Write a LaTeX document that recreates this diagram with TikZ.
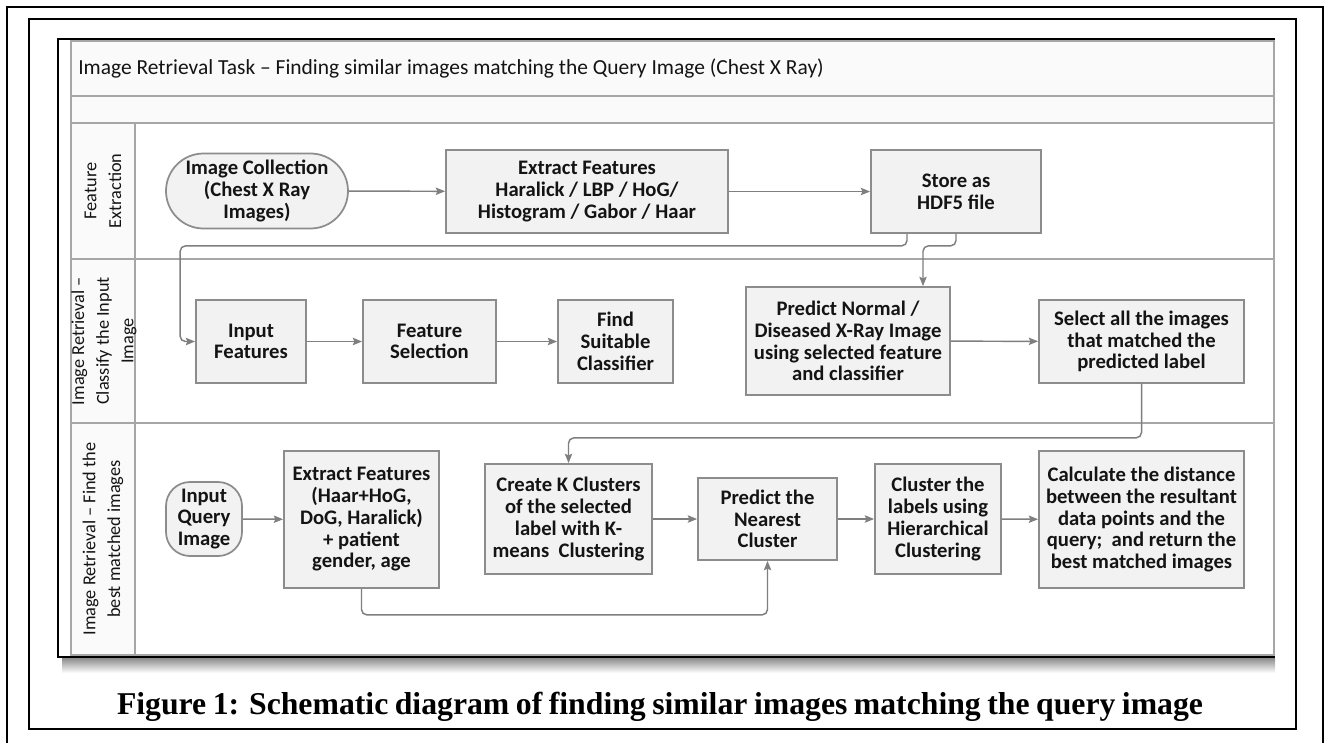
\documentclass[tikz,border=0pt]{standalone}
\usepackage{fontspec}
\setmainfont{Carlito}
\newfontfamily\capfont{Liberation Serif}
\usetikzlibrary{arrows.meta,calc}
\definecolor{boxfill}{HTML}{F2F2F2}
\definecolor{boxline}{HTML}{8C8C8C}
\definecolor{lanefill}{HTML}{FAFAFA}
\definecolor{laneline}{HTML}{A6A6A6}
\definecolor{arr}{HTML}{7F7F7F}
\definecolor{txt}{HTML}{141414}
\begin{document}
\begin{tikzpicture}[x=0.75pt,y=-0.75pt,
  sz/.style 2 args={minimum width=#1*0.75pt, minimum height=#2*0.75pt},
  proc/.style={draw=boxline, fill=boxfill, line width=1.3pt, inner sep=0pt, align=center,
    font=\bfseries\fontsize{15.5}{16.3}\selectfont, text=txt},
  term/.style={proc, rounded corners=#1},
  conn/.style={draw=arr, line width=1.1pt, rounded corners=4pt,
    -{Stealth[length=7pt,width=5.5pt,inset=1.2pt]}},
  lanelbl/.style={rotate=90, align=center, font=\fontsize{13.7}{18.5}\selectfont, text=txt},
  lane/.style={draw=laneline, line width=1.5pt},
  frame/.style={draw=black, line width=1.4pt}
]
\useasboundingbox (0,0) rectangle (1327,742);
% page frames
\draw[frame] (7,745) -- (7,7) -- (1323,7) -- (1323,745);
\draw[frame] (29,19) rectangle (1296,729);
% shadow and diagram frame
\shade[top color=black!45, bottom color=white] (62,658) rectangle (1275,673);
\fill[white] (58,39) rectangle (1275,657);
% swimlane pool
\fill[lanefill] (71,41) rectangle (1274,123);
\fill[lanefill] (71,123) rectangle (135,655);
\draw[lane] (71,41) rectangle (1274,655);
\draw[lane] (71,96) -- (1274,96);
\draw[lane] (71,123) -- (1274,123);
\draw[lane] (71,259) -- (1274,259);
\draw[lane] (71,423) -- (1274,423);
\draw[lane] (135,123) -- (135,655);
\draw[frame] (1275,39) -- (58,39) -- (58,657) -- (1275,657);
% title and lane labels
\node[anchor=west, inner sep=0pt, font=\fontsize{16.1}{18}\selectfont, text=txt] (title) at (78,68.5)
  {Image Retrieval Task – Finding similar images matching the Query Image (Chest X Ray)};
\node[lanelbl] (l1) at (103,191) {Feature\\Extraction};
\node[lanelbl] (l2) at (104,341) {Image Retrieval –\\Classify the Input\\Image};
\node[lanelbl] (l3) at (103,539) {Image Retrieval – Find the\\best matched images};
% lane 1
\node[term=37.5*0.75pt, sz={182}{75}] (imgcol) at (257,191) {Image Collection\\(Chest X Ray\\Images)};
\node[proc, sz={282}{83}] (exf) at (587,191.5) {Extract Features\\Haralick / LBP / HoG/\\Histogram / Gabor / Haar};
\node[proc, sz={170}{83}] (store) at (956,191.5) {Store as\\HDF5 file};
% lane 2
\node[proc, sz={110}{83}] (infeat) at (251,341.5) {Input\\Features};
\node[proc, sz={133}{83}] (fsel) at (429.5,341.5) {Feature\\Selection};
\node[proc, sz={115}{83}] (fsc) at (615.5,341.5) {Find\\Suitable\\Classifier};
\node[proc, sz={204}{108}] (pred) at (848,341) {Predict Normal /\\Diseased X-Ray Image\\using selected feature\\and classifier};
\node[proc, sz={205}{83}] (select) at (1141.5,341.5) {Select all the images\\that matched the\\predicted label};
% lane 3
\node[term=24*0.75pt, sz={76}{74}] (iq) at (204,519) {Input\\Query\\Image};
\node[proc, sz={155}{137}] (exh) at (361.5,519.5) {Extract Features\\(Haar+HoG,\\DoG, Haralick)\\+ patient\\gender, age};
\node[proc, sz={167}{110}] (create) at (568.5,519) {Create K Clusters\\of the selected\\label with K-\\means\ \ Clustering};
\node[proc, sz={139}{82}] (pnear) at (767.5,519) {Predict the\\Nearest\\Cluster};
\node[proc, sz={126}{110}] (clus) at (938,519) {Cluster the\\labels using\\Hierarchical\\Clustering};
\node[proc, sz={205}{137}] (calc) at (1141.5,519.5) {Calculate the distance\\between the resultant\\data points and the\\query;\ \ and return the\\best matched images};
% connectors
\draw[conn] (imgcol) -- (exf);
\draw[conn] (exf) -- (store);
\draw[conn] ($(store.south)+(-49,0)$) -- ++(0,12) -| ($(infeat.west)+(-15,0)$) -- (infeat.west);
\draw[conn] (store.south) -- ++(0,12) -| ($(pred.north)+(75,0)$);
\draw[conn] (infeat) -- (fsel);
\draw[conn] (fsel) -- (fsc);
\draw[conn] (pred) -- (select);
\draw[conn] (select.south) -- ++(0,54) -| (create.north);
\draw[conn] (iq) -- (exh);
\draw[conn] (exh.south) -- ++(0,26) -| (pnear.south);
\draw[conn] (create) -- (pnear);
\draw[conn] (pnear) -- (clus);
\draw[conn] (clus) -- (calc);
% caption
\node[anchor=base, font=\capfont\bfseries\fontsize{23.8}{28}\selectfont] (cap) at (660,714)
  {\makebox[814.5pt][s]{Figure 1: Schematic diagram of finding similar images matching the query image}};
\end{tikzpicture}
\end{document}
